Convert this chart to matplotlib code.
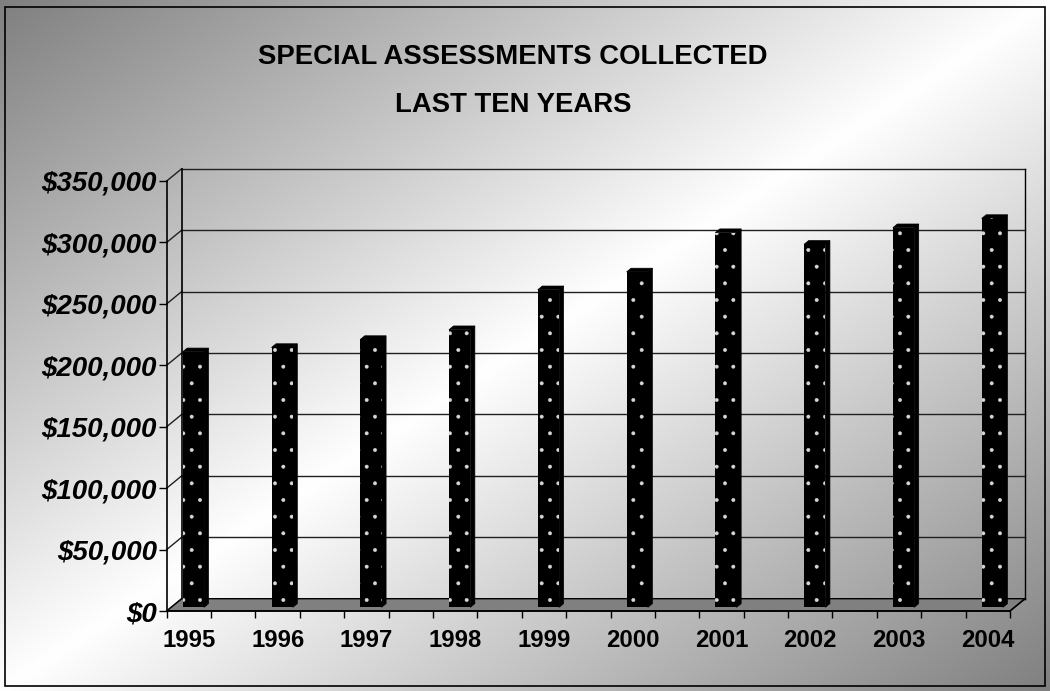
import numpy as np
import matplotlib
matplotlib.use("Agg")
import matplotlib.pyplot as plt
from matplotlib.patches import Polygon, Rectangle

plt.rcParams['font.family'] = ['Liberation Sans', 'DejaVu Sans']
plt.rcParams['hatch.color'] = '#d8d8d8'
plt.rcParams['hatch.linewidth'] = 0.35

# ---- data ----
years = ['1995', '1996', '1997', '1998', '1999', '2000', '2001', '2002', '2003', '2004']
values = [208000, 211500, 218000, 226000, 258500, 273000, 305000, 295500, 309000, 316500]
yticks = [0, 50000, 100000, 150000, 200000, 250000, 300000, 350000]
title1 = 'SPECIAL ASSESSMENTS COLLECTED'
title2 = 'LAST TEN YEARS'

W, H = 1050, 691
fig = plt.figure(figsize=(W / 100, H / 100), dpi=100)

# ---- background gradient ----
bg = fig.add_axes([0, 0, 1, 1])
xx, yy = np.meshgrid(np.linspace(0, 1, 400), np.linspace(0, 1, 300))
t = xx + yy
v = 1 - 0.5 * np.abs(t - 1)
v = np.clip(v, 0, 1)
bg.imshow(np.dstack([v, v, v]), extent=[0, 1, 1, 0], aspect='auto', interpolation='bilinear')
bg.set_xlim(0, 1)
bg.set_ylim(1, 0)
bg.axis('off')
bg.add_patch(Rectangle((5 / W, 7 / H), 1040 / W, 679 / H, fill=False, ec='black', lw=1.2))
bg.set_zorder(-10)

fig.text(513 / W, 1 - 57 / H, title1, ha='center', va='center', fontsize=19.8, fontweight='bold')
fig.text(513 / W, 1 - 105 / H, title2, ha='center', va='center', fontsize=19.8, fontweight='bold')

# ---- main axes (front plane) ----
x0, x1 = 166.7, 1010.0
y0, y1 = 611.0, 181.0
ax = fig.add_axes([x0 / W, (H - y0) / H, (x1 - x0) / W, (y0 - y1) / H])
ax.patch.set_alpha(0)
n = len(years)
xl, xr = -0.25, n - 0.75
ymax = yticks[-1]
ax.set_xlim(xl, xr)
ax.set_ylim(0, ymax)
pxu = (x1 - x0) / (xr - xl)
DX = 15.0 / pxu
DY = 12.3 / ((y0 - y1) / ymax)

# floor
floor = Polygon([(xl, 0), (xr, 0), (xr + DX, DY), (xl + DX, DY)], closed=True,
                fc='#808080', ec='black', lw=1.0, clip_on=False, zorder=1)
ax.add_patch(floor)

# gridlines on back wall and left wall
for yv in yticks:
    ax.plot([xl + DX, xr + DX], [yv + DY, yv + DY], color='#202020', lw=1.0, clip_on=False, zorder=0.5)
    ax.plot([xl, xl + DX], [yv, yv + DY], color='#202020', lw=1.0, clip_on=False, zorder=0.5)
ax.plot([xl + DX, xl + DX], [DY, ymax + DY], color='black', lw=1.2, clip_on=False, zorder=0.5)
ax.plot([xr + DX, xr + DX], [DY, ymax + DY], color='black', lw=1.0, clip_on=False, zorder=0.5)
ax.plot([xr, xr + DX], [0, DY], color='black', lw=1.0, clip_on=False, zorder=1.1)

# bars
f = 0.3     # depth fraction of bar front face
bd = 0.3    # bar depth fraction
w = 0.24
xs = np.arange(n) + f * DX
ax.bar(xs, values, width=w, bottom=f * DY, color='black', linewidth=0, hatch='.',
       zorder=3, clip_on=False)
for xc, val in zip(xs, values):
    xa, xb = xc - w / 2, xc + w / 2
    b, tp = f * DY, val + f * DY
    side = Polygon([(xb, b), (xb + bd * DX, b + bd * DY), (xb + bd * DX, tp + bd * DY), (xb, tp)],
                   closed=True, fc='black', ec='black', lw=0.5, clip_on=False, zorder=2.9)
    top = Polygon([(xa, tp), (xb, tp), (xb + bd * DX, tp + bd * DY), (xa + bd * DX, tp + bd * DY)],
                  closed=True, fc='black', ec='black', lw=0.5, clip_on=False, zorder=2.9)
    ax.add_patch(side)
    ax.add_patch(top)

# axes styling
for s in ['top', 'right']:
    ax.spines[s].set_visible(False)
for s in ['left', 'bottom']:
    ax.spines[s].set_color('black')
    ax.spines[s].set_linewidth(1.2)
    ax.spines[s].set_zorder(4)

ax.set_yticks(yticks)
ax.set_yticklabels(['${:,}'.format(y) for y in yticks], fontsize=20,
                   fontweight='bold', fontstyle='italic')
ax.tick_params(axis='y', direction='out', length=6, width=1, pad=1)

ax.set_xticks(np.arange(n))
ax.set_xticklabels(years, fontsize=17.2, fontweight='bold')
ax.tick_params(axis='x', which='major', length=0, pad=13)
minor = sorted([i - 0.25 for i in range(n)] + [i + 0.25 for i in range(n)])
ax.set_xticks(minor, minor=True)
ax.tick_params(axis='x', which='minor', direction='out', length=5, width=1)

fig.savefig('out.png', dpi=100)
